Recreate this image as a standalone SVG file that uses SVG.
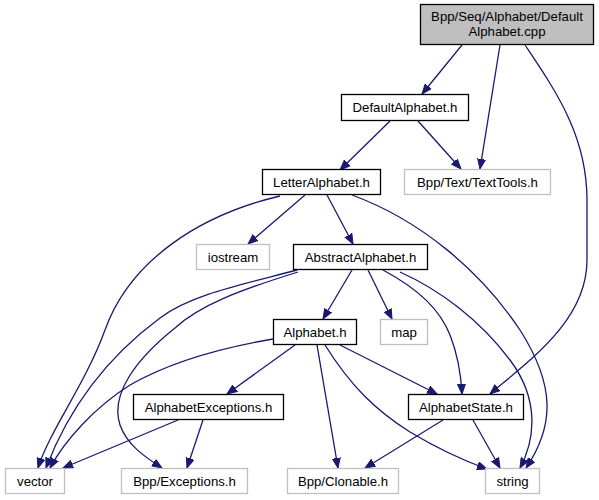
<svg xmlns="http://www.w3.org/2000/svg" width="599" height="500" viewBox="0 0 599 500">
<defs>
<marker id="arr" markerUnits="userSpaceOnUse" markerWidth="11" markerHeight="9" refX="10" refY="4.5" orient="auto">
<path d="M0,0.5 L10,4.5 L0,8.5 z" fill="#191970" stroke="#191970" stroke-width="1"/>
</marker>
<style>
.n rect{fill:#ffffff;stroke:#000000;stroke-width:1.3}
.x rect{fill:#ffffff;stroke:#bfbfbf;stroke-width:1.3}
.r rect{fill:#bfbfbf;stroke:#000000;stroke-width:1.3}
text{font-family:"Liberation Sans",Arial,sans-serif;font-size:13.2px;fill:#000000;text-anchor:middle}
#edges path{fill:none;stroke:#191970;stroke-width:1.3;marker-end:url(#arr)}
</style>
</defs>
<rect width="599" height="500" fill="#ffffff"/>
<g id="edges">
<path d="M462,45 L422,94"/>
<path d="M500,45 L480,169"/>
<path d="M525,45 C555,90 587,135 587,200 L587,260 C587,320 530,360 490,394"/>
<path d="M390,121 L340,170"/>
<path d="M418,121 L461,169"/>
<path d="M305,195 L248,244"/>
<path d="M327,195 L353,244"/>
<path d="M280,196 C200,215 130,260 105,330 C85,385 50,430 38,468"/>
<path d="M352,195 C420,220 480,270 520,330 C555,385 555,425 526,468"/>
<path d="M297,270 C240,285 190,295 160,318 C110,355 70,405 46,468"/>
<path d="M298,272 C240,290 200,305 175,328 C135,360 110,395 120,425 C127,445 145,457 162,468"/>
<path d="M352,270 L323,319"/>
<path d="M368,270 L392,319"/>
<path d="M383,270 C420,290 440,310 450,335 C458,355 461,375 462,394"/>
<path d="M400,272 C440,290 480,320 510,360 C540,400 535,440 520,468"/>
<path d="M273,339 C220,348 170,362 130,385 C95,407 65,440 50,468"/>
<path d="M295,345 L227,394"/>
<path d="M340,345 L437,394"/>
<path d="M317,345 L338,468"/>
<path d="M325,345 C350,385 375,410 410,432 C440,450 462,460 487,469"/>
<path d="M178,420 L63,468"/>
<path d="M203,420 L187,468"/>
<path d="M443,420 L365,468"/>
<path d="M473,420 L500,468"/>
</g>
<g id="root" class="r"><rect x="420.5" y="4.5" width="173" height="40"/><text x="507" y="21">Bpp/Seq/Alphabet/Default</text><text x="507" y="36">Alphabet.cpp</text></g>
<g id="defaultalphabet" class="n"><rect x="341.5" y="94.5" width="127" height="26"/><text x="405" y="112">DefaultAlphabet.h</text></g>
<g id="texttools" class="x"><rect x="404.5" y="169.5" width="146" height="25"/><text x="477.5" y="186.5">Bpp/Text/TextTools.h</text></g>
<g id="letteralphabet" class="n"><rect x="262.5" y="169.5" width="118" height="25"/><text x="321.5" y="186.5">LetterAlphabet.h</text></g>
<g id="iostream" class="x"><rect x="196.5" y="244.5" width="73" height="25"/><text x="233" y="261.5">iostream</text></g>
<g id="abstractalphabet" class="n"><rect x="293.5" y="244.5" width="134" height="25"/><text x="360.5" y="261.5">AbstractAlphabet.h</text></g>
<g id="alphabet" class="n"><rect x="273.5" y="319.5" width="83" height="25"/><text x="315" y="336.5">Alphabet.h</text></g>
<g id="map" class="x"><rect x="380.5" y="319.5" width="47" height="25"/><text x="404" y="336.5">map</text></g>
<g id="alphabetexceptions" class="n"><rect x="133.5" y="394.5" width="150" height="25"/><text x="208.5" y="411.5">AlphabetExceptions.h</text></g>
<g id="alphabetstate" class="n"><rect x="408.5" y="394.5" width="115" height="25"/><text x="466" y="411.5">AlphabetState.h</text></g>
<g id="vector" class="x"><rect x="5.5" y="468.5" width="59" height="25"/><text x="35" y="485.5">vector</text></g>
<g id="exceptions" class="x"><rect x="121.5" y="468.5" width="126" height="25"/><text x="184.5" y="485.5">Bpp/Exceptions.h</text></g>
<g id="clonable" class="x"><rect x="287.5" y="468.5" width="111" height="25"/><text x="343" y="485.5">Bpp/Clonable.h</text></g>
<g id="string" class="x"><rect x="485.5" y="468.5" width="54" height="25"/><text x="512.5" y="485.5">string</text></g>
</svg>
